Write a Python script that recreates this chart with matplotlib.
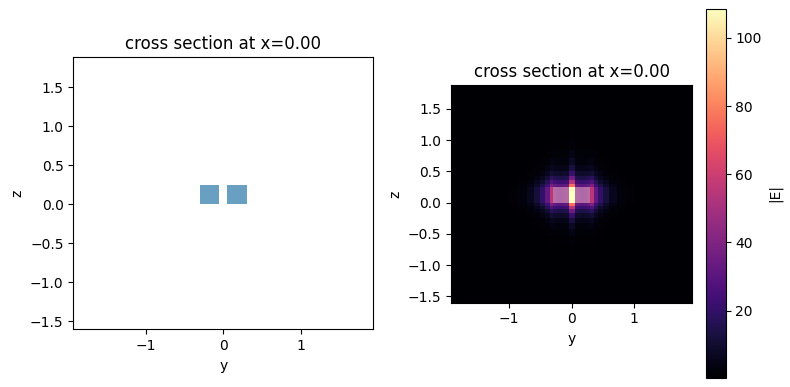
"""
plot.py
-------
Slot waveguide cross section (left) and |E| mode profile (right), x=0 plane.
"""

import numpy as np
import matplotlib.pyplot as plt
from matplotlib.patches import Rectangle

W, H = 790, 387

# Plot window (um)
Y_LIM = (-1.93, 1.93)
Z_LIM = (-1.60, 1.88)

# Silicon rails: (y_min, y_max), all from z=0 to z=0.25
RAILS_Y = [(-0.30, -0.05), (0.05, 0.30)]
RAIL_Z = (0.0, 0.25)

# |E| read off the image on the (non-uniform) grid.
# y: cell edges for y >= 0.05 (slot cell -0.05..0.05 in the middle), mirrored
Y_EDGES_HALF = [0.05, 0.10, 0.15, 0.20, 0.25, 0.30, 0.35, 0.42, 0.50,
                0.60, 0.72, 0.86, 1.02, 1.20, 1.40, 1.65, 1.93]
SLOT_VALUE = 108
# profile across y, moving outward from the slot
Y_PROFILE_HALF = [46, 44, 43, 44, 47, 55, 32, 20, 12,
                  6, 3, 1.4, 0.7, 0.35, 0.17, 0.08]

Z_EDGES = [-1.60, -1.30, -1.05, -0.85, -0.68, -0.54, -0.42, -0.32, -0.24,
           -0.17, -0.11, -0.05, 0.0, 0.05, 0.10, 0.15, 0.20, 0.25, 0.30,
           0.36, 0.43, 0.51, 0.60, 0.71, 0.84, 1.00, 1.20, 1.45, 1.88]
Z_PROFILE = [0.002, 0.003, 0.005, 0.01, 0.02, 0.04, 0.07, 0.12, 0.20,
             0.33, 0.50, 0.70, 1.0, 1.0, 1.0, 1.0, 1.0, 0.70,
             0.50, 0.33, 0.20, 0.12, 0.07, 0.04, 0.02, 0.01, 0.005, 0.003]

E_MIN, E_MAX = 0.3, 108.4
CBAR_TICKS = [20, 40, 60, 80, 100]

RAIL_COLOR = "#69a0c1"


# =========================================================
# BUILD FIELD
# =========================================================

y_half = np.array(Y_EDGES_HALF)
y_edges = np.concatenate([-y_half[::-1], y_half])
f_half = np.array(Y_PROFILE_HALF, dtype=float)
f_y = np.concatenate([f_half[::-1], [SLOT_VALUE], f_half])
z_edges = np.array(Z_EDGES)
field = np.outer(np.array(Z_PROFILE), f_y)


# =========================================================
# PLOT
# =========================================================

def px_axes(fig, x0, y0, x1, y1):
    return fig.add_axes([x0 / W, 1 - y1 / H, (x1 - x0) / W, (y1 - y0) / H])


fig = plt.figure(figsize=(W / 100, H / 100), dpi=100)

ax1 = px_axes(fig, 73.3, 57.3, 373.3, 329.3)
ax2 = px_axes(fig, 451.0, 85.0, 692.3, 302.7)
cax = px_axes(fig, 706.0, 9.3, 725.7, 377.7)

# left: structures
for y0, y1 in RAILS_Y:
    ax1.add_patch(Rectangle((y0, RAIL_Z[0]), y1 - y0, RAIL_Z[1] - RAIL_Z[0],
                            facecolor=RAIL_COLOR, edgecolor="none"))

# right: field + faint structure overlay
mesh = ax2.pcolormesh(y_edges, z_edges, field, cmap="magma",
                      vmin=E_MIN, vmax=E_MAX, shading="flat")
for y0, y1 in RAILS_Y:
    ax2.add_patch(Rectangle((y0, RAIL_Z[0]), y1 - y0, RAIL_Z[1] - RAIL_Z[0],
                            facecolor="white", edgecolor="none", alpha=0.3))

for ax in (ax1, ax2):
    ax.set_xlim(*Y_LIM)
    ax.set_ylim(*Z_LIM)
    ax.set_xticks([-1, 0, 1])
    ax.set_yticks([-1.5, -1.0, -0.5, 0.0, 0.5, 1.0, 1.5])
    ax.set_xlabel("y")
    ax.set_ylabel("z")
    ax.set_title("cross section at x=0.00")

cb = fig.colorbar(mesh, cax=cax)
cb.set_ticks(CBAR_TICKS)
cb.set_label("|E|")

plt.savefig("out.png", dpi=100)
plt.close()
print("Saved out.png")
